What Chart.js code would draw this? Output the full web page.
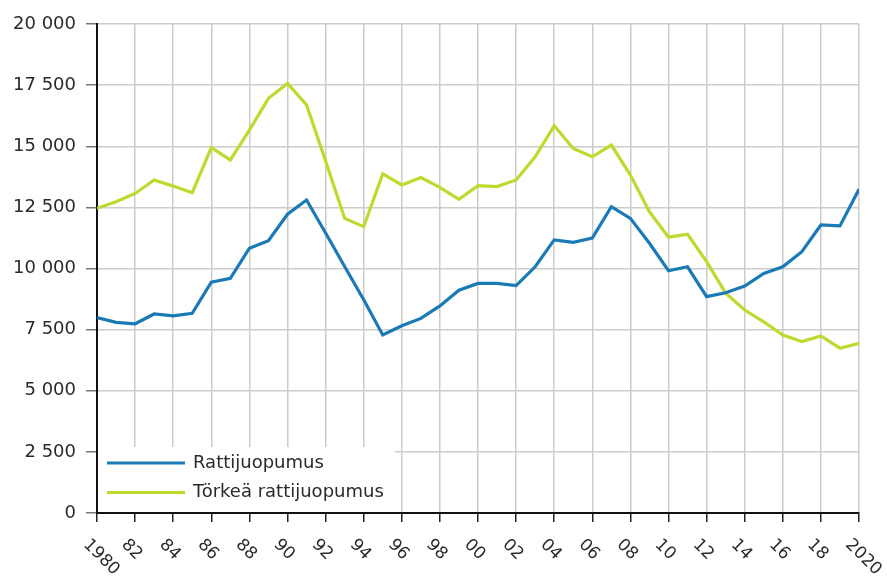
<!DOCTYPE html>
<html>
<head>
<meta charset="utf-8">
<script src="https://cdn.jsdelivr.net/npm/chart.js@4.4.0/dist/chart.umd.min.js"></script>
<style>
  html, body { margin: 0; padding: 0; background: #fff; }
  #wrap { width: 887px; height: 577px; position: relative; }
</style>
</head>
<body>
<div id="wrap"><canvas id="chart"></canvas></div>
<script>
const years = [];
for (let y = 1980; y <= 2020; y++) years.push(y);

const seriesLabels = ['Rattijuopumus', 'Törkeä rattijuopumus'];
const seriesColors = ['#1a7ab6', '#c1d82f'];

// Rattijuopumus
const rattiValues = [
  7990, 7800, 7740, 8140, 8060, 8170, 9440, 9600, 10830, 11140,
  12220, 12800, 11450, 10080, 8720, 7280, 7660, 7960, 8470, 9110,
  9390, 9390, 9300, 10070, 11170, 11070, 11240, 12530, 12050, 11030,
  9910, 10070, 8850, 9010, 9280, 9800, 10070, 10690, 11780, 11740,
  13240
];

// Törkeä rattijuopumus
const torkeaValues = [
  12460, 12730, 13070, 13620, 13370, 13100, 14940, 14440, 15660, 16960,
  17570, 16690, 14400, 12050, 11710, 13870, 13420, 13720, 13320, 12830,
  13390, 13350, 13620, 14570, 15840, 14910, 14570, 15050, 13820, 12320,
  11280, 11400, 10280, 8990, 8300, 7820, 7280, 7010, 7240, 6740,
  6940
];

const yTicks = [0, 2500, 5000, 7500, 10000, 12500, 15000, 17500, 20000];

const FONT = '"DejaVu Sans", Verdana, sans-serif';

function fmt(v) {
  return String(v).replace(/\B(?=(\d{3})+(?!\d))/g, ' ');
}

function xLabel(v) {
  if (v === 1980 || v === 2020) return String(v);
  return String(v).slice(2);
}

// valkoinen selitelaatikko kuvaajan sisällä vasemmassa alakulmassa
const insideLegend = {
  id: 'insideLegend',
  beforeDatasetsDraw(chart) {
    const a = chart.chartArea;
    const ctx = chart.ctx;
    ctx.save();
    ctx.fillStyle = '#fff';
    ctx.fillRect(a.left + 1, a.bottom - 66, 297, 65);
    ctx.restore();
  },
  afterDraw(chart) {
    const a = chart.chartArea;
    const ctx = chart.ctx;
    ctx.save();
    chart.data.datasets.forEach((ds, i) => {
      const y = a.bottom - 50 + i * 29.5;
      ctx.strokeStyle = ds.borderColor;
      ctx.lineWidth = 3;
      ctx.beginPath();
      ctx.moveTo(a.left + 10, y);
      ctx.lineTo(a.left + 88, y);
      ctx.stroke();
      ctx.fillStyle = '#2a2a2a';
      ctx.font = '18px ' + FONT;
      ctx.textAlign = 'left';
      ctx.textBaseline = 'middle';
      ctx.fillText(ds.label, a.left + 96, y);
    });

    // vinot vuosiluvut x-akselille
    const xs = chart.scales.x;
    ctx.font = '17px ' + FONT;
    ctx.fillStyle = '#2a2a2a';
    xs.ticks.forEach(t => {
      const px = xs.getPixelForValue(t.value);
      ctx.save();
      ctx.translate(px - 11, a.bottom + 29);
      ctx.rotate(Math.PI / 4);
      ctx.textAlign = 'left';
      ctx.textBaseline = 'middle';
      ctx.fillText(xLabel(t.value), 0, 0);
      ctx.restore();
    });
    ctx.restore();
  }
};

new Chart(document.getElementById('chart').getContext('2d'), {
  type: 'line',
  data: {
    datasets: [
      {
        label: seriesLabels[0],
        data: years.map((y, i) => ({ x: y, y: rattiValues[i] })),
        borderColor: seriesColors[0],
        backgroundColor: seriesColors[0],
        borderWidth: 3.2,
        pointRadius: 0,
        tension: 0
      },
      {
        label: seriesLabels[1],
        data: years.map((y, i) => ({ x: y, y: torkeaValues[i] })),
        borderColor: seriesColors[1],
        backgroundColor: seriesColors[1],
        borderWidth: 3.2,
        pointRadius: 0,
        tension: 0
      }
    ]
  },
  options: {
    responsive: true,
    maintainAspectRatio: false,
    animation: false,
    layout: { padding: { top: 24, right: 28, left: 0, bottom: 0 } },
    plugins: {
      legend: { display: false },
      tooltip: { enabled: false }
    },
    scales: {
      x: {
        type: 'linear',
        min: years[0],
        max: years[years.length - 1],
        afterFit(scale) { scale.height = 64; },
        ticks: { display: false, stepSize: 2 },
        grid: {
          color: '#cccccc',
          lineWidth: 1.5,
          tickColor: '#222',
          tickLength: 9
        },
        border: { color: '#111', width: 2 }
      },
      y: {
        min: 0,
        max: 20000,
        afterFit(scale) { scale.width = 97; },
        afterBuildTicks(scale) { scale.ticks = yTicks.map(v => ({ value: v })); },
        ticks: {
          padding: 10,
          color: '#2a2a2a',
          font: { family: FONT, size: 18 },
          callback: v => fmt(v)
        },
        grid: {
          color: '#cccccc',
          lineWidth: 1.5,
          tickColor: '#777',
          tickLength: 11
        },
        border: { color: '#111', width: 2 }
      }
    }
  },
  plugins: [insideLegend]
});
</script>
</body>
</html>
